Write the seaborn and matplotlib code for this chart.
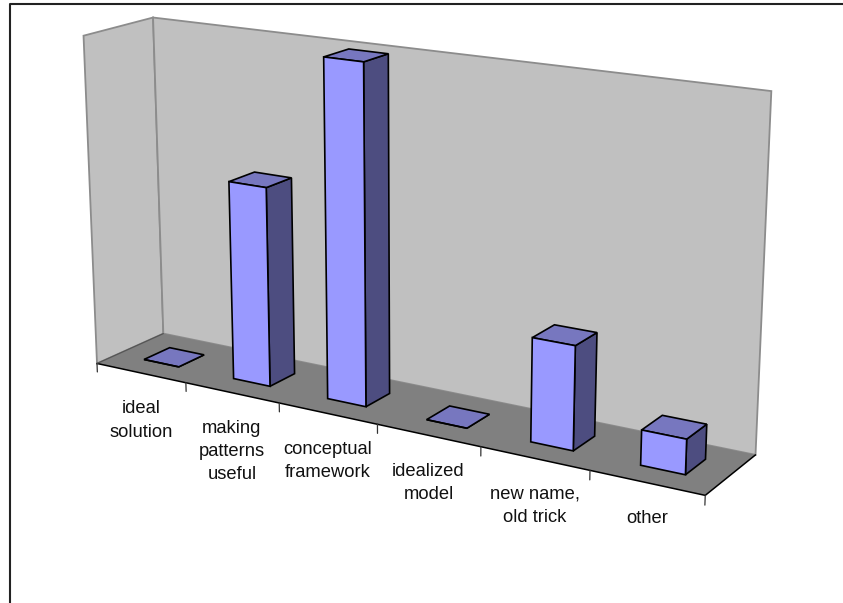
import numpy as np
import pandas as pd
import matplotlib
matplotlib.use("Agg")
import matplotlib.pyplot as plt
from matplotlib.lines import Line2D
from matplotlib.patches import Polygon
from matplotlib.transforms import Transform
import seaborn as sns

categories = ["ideal\nsolution", "making\npatterns\nuseful", "conceptual\nframework",
              "idealized\nmodel", "new name,\nold trick", "other"]
responses = [0, 6, 10, 0, 3, 1]
axis_max = 10

WIDTH, HEIGHT, DPI = 843, 603, 100
BAR_WIDTH = 0.393
BAR_CENTRE = 0.495
DEPTH_FRONT, DEPTH_BACK = 0.31, 0.70

FRONT, TOP, SIDE = "#9999FF", "#7777BF", "#4D4D80"
WALL, FLOOR, WALL_EDGE = "#C0C0C0", "#808080", "#8C8C8C"

n = len(categories)
# Box corners (category position, value, depth) and where the camera places them.
box_corners = [
    ((0, 0, 0), (97.0, 363.5)), ((n, 0, 0), (705.5, 495.0)),
    ((0, 0, 1), (163.3, 333.5)), ((n, 0, 1), (755.3, 455.3)),
    ((0, axis_max, 0), (83.3, 36.0)), ((0, axis_max, 1), (153.3, 17.3)),
    ((n, axis_max, 1), (771.3, 91.0)),
]


def fit_camera(pairs):
    rows = []
    for (x, y, z), (u, v) in pairs:
        p = [x, y, z, 1]
        rows.append(p + [0, 0, 0, 0] + [-u * c for c in p])
        rows.append([0, 0, 0, 0] + p + [-v * c for c in p])
    return np.linalg.svd(np.array(rows, float))[2][-1].reshape(3, 4)


CAMERA = fit_camera(box_corners)


class Plane(Transform):
    """Perspective view of one plane of the chart box, in display pixels."""
    input_dims = output_dims = 2

    def __init__(self, basis):
        super().__init__()
        self.h = CAMERA @ np.array(basis, float)

    def transform_non_affine(self, values):
        values = np.asarray(values, float)
        q = np.column_stack([values, np.ones(len(values))]) @ self.h.T
        return np.column_stack([q[:, 0] / q[:, 2], HEIGHT - q[:, 1] / q[:, 2]])


def depth_plane(z, shift=0.0):   # input: (category position, value)
    return Plane([[1, 0, shift], [0, 1, 0], [0, 0, z], [0, 0, 1]])


def side_plane(x):               # input: (depth, value)
    return Plane([[0, 0, x], [0, 1, 0], [1, 0, 0], [0, 0, 1]])


def level_plane(y):              # input: (category position, depth)
    return Plane([[1, 0, 0], [0, 0, y], [0, 1, 0], [0, 0, 1]])


sns.set_style("white")
plt.rcParams["font.family"] = ["Liberation Sans", "DejaVu Sans"]

fig = plt.figure(figsize=(WIDTH / DPI, HEIGHT / DPI), dpi=DPI)
ax = fig.add_axes([0, 0, 1, 1])
data = pd.DataFrame({"category": categories, "responses": responses})
sns.barplot(data=data, x="category", y="responses", color=FRONT, saturation=1,
            width=BAR_WIDTH, edgecolor="black", linewidth=1.2, ax=ax, zorder=5)
ax.set_axis_off()


def face(points, plane, color, edge, lw=1.0, z=1):
    ax.add_patch(Polygon(points, closed=True, transform=plane, facecolor=color,
                         edgecolor=edge, linewidth=lw, clip_on=False, zorder=z,
                         joinstyle="miter"))


# Walls and floor
face([(0, 0), (1, 0), (1, axis_max), (0, axis_max)], side_plane(0), WALL, WALL_EDGE, 1.3)
face([(0, 0), (n, 0), (n, axis_max), (0, axis_max)], depth_plane(1), WALL, WALL_EDGE, 1.3)
face([(0, 0), (n, 0), (n, 1), (0, 1)], level_plane(0), FLOOR, "none")
floor = level_plane(0)
ax.plot([0, n, n], [0, 0, 1], color="black", lw=1.1, transform=floor, clip_on=False, zorder=2)
ax.plot([0, 0], [0, 1], color="#555555", lw=0.9, transform=floor, clip_on=False, zorder=2)

# Category tick marks below the front floor edge
front_plane = depth_plane(0)
for i in range(n + 1):
    ax.plot([i, i], [0, -0.27], color="#333333", lw=0.9, transform=front_plane,
            clip_on=False, zorder=2)

# Front faces come from the bar containers; top and side faces extend them in depth
bar_front = depth_plane(DEPTH_FRONT, BAR_CENTRE)
for bar, value in zip(ax.containers[0], responses):
    bar.set_transform(bar_front)
    bar.set_clip_on(False)
    left = bar.get_x() + BAR_CENTRE
    right = left + bar.get_width()
    face([(DEPTH_FRONT, 0), (DEPTH_BACK, 0), (DEPTH_BACK, value), (DEPTH_FRONT, value)],
         side_plane(right), SIDE, "black", 1.2, 4)
    face([(left, DEPTH_FRONT), (right, DEPTH_FRONT), (right, DEPTH_BACK), (left, DEPTH_BACK)],
         level_plane(value), TOP, "black", 1.2, 4)

# Category labels hang a fixed distance below the middle of each slot
for i, label in enumerate(categories):
    u, v = front_plane.transform_non_affine(np.array([[i + 0.5, 0.0]]))[0]
    ax.text(u, v - 27.5, label, transform=None, ha="center", va="top", fontsize=13.2,
            color="#111111", linespacing=1.47, clip_on=False, zorder=6)

# Chart area border: only the top and left sides fall inside the image
fig.add_artist(Line2D([10 / WIDTH, 10 / WIDTH, 1], [0, 1 - 4 / HEIGHT, 1 - 4 / HEIGHT],
                      color="#222222", lw=1.5, transform=fig.transFigure))

fig.savefig("out.png", dpi=DPI)
